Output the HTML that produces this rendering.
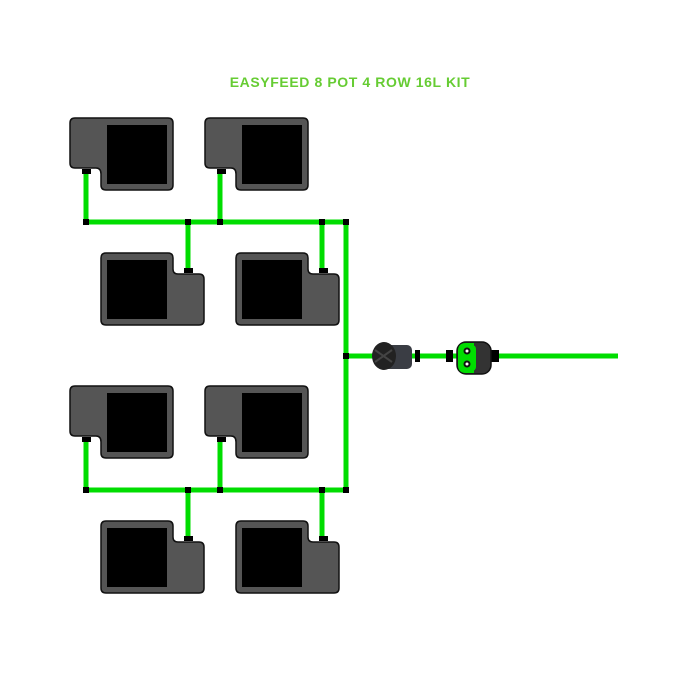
<!DOCTYPE html>
<html><head><style>body{margin:0;background:#fff}svg{display:block}</style></head><body>
<svg width="700" height="700" viewBox="0 0 700 700" xmlns="http://www.w3.org/2000/svg">
<rect width="700" height="700" fill="#fff"/>
<text x="350" y="87" text-anchor="middle" font-family="Liberation Sans, sans-serif" font-size="14" font-weight="bold" letter-spacing="0.6" fill="#66cc33">EASYFEED 8 POT 4 ROW 16L KIT</text>
<defs>
<g id="potA">
<path d="M5,0 H98 Q103,0 103,5 V67 Q103,72 98,72 H36 Q31,72 31,67 V56 Q31,50 26,50 H5 Q0,50 0,45 V5 Q0,0 5,0 Z" fill="#555" stroke="#111" stroke-width="1.5"/>
<rect x="37" y="7" width="60" height="59" fill="#000"/>
<rect x="12" y="51" width="9" height="5" fill="#000"/>
</g>
<g id="potB">
<path d="M5,0 H67 Q72,0 72,5 V16 Q72,21 77,21 H98 Q103,21 103,26 V67 Q103,72 98,72 H5 Q0,72 0,67 V5 Q0,0 5,0 Z" fill="#555" stroke="#111" stroke-width="1.5"/>
<rect x="6" y="7" width="60" height="59" fill="#000"/>
<rect x="83" y="15" width="9" height="5" fill="#000"/>
</g>
<g id="grp">
<g stroke="#00dd00" stroke-width="5" fill="none">
<path d="M86,174 V222 H346"/>
<path d="M220,174 V222"/>
<path d="M188,222 V272"/>
<path d="M322,222 V272"/>
</g>
<use href="#potA" x="70" y="118"/>
<use href="#potA" x="205" y="118"/>
<use href="#potB" x="101" y="253"/>
<use href="#potB" x="236" y="253"/>
<g fill="#000">
<rect x="83" y="219" width="6" height="6"/><rect x="185" y="219" width="6" height="6"/>
<rect x="217" y="219" width="6" height="6"/><rect x="319" y="219" width="6" height="6"/>
<rect x="343" y="219" width="6" height="6"/>
</g>
</g>
</defs>
<path d="M346,222 V490" stroke="#00dd00" stroke-width="5"/>
<path d="M346,356 H618" stroke="#00dd00" stroke-width="5"/>
<use href="#grp"/>
<use href="#grp" y="268"/>
<rect x="343" y="353" width="6" height="6" fill="#000"/>
<!-- filter -->
<rect x="382" y="345" width="30" height="24" rx="5" fill="#3a3d44"/>
<ellipse cx="384" cy="356" rx="12" ry="14" fill="#222"/>
<path d="M375,350 L392,362 M375,362 L392,350" stroke="#444" stroke-width="2"/>
<rect x="415" y="350" width="5" height="12" fill="#000"/>
<!-- timer -->
<rect x="446" y="350" width="7" height="12" fill="#000"/>
<rect x="491" y="350" width="8" height="12" fill="#000"/>
<rect x="457" y="342" width="34" height="32" rx="9" fill="#333" stroke="#111" stroke-width="1.5"/>
<path d="M466,343 H474 V373 H466 Q458,373 458,365 V351 Q458,343 466,343 Z" fill="#00dd00"/>
<rect x="460" y="345" width="16" height="26" rx="4" fill="#00dd00"/>
<circle cx="467" cy="351" r="3.5" fill="#111"/><circle cx="467" cy="351" r="1.5" fill="#fff"/>
<circle cx="467" cy="364" r="3.5" fill="#111"/><circle cx="467" cy="364" r="1.5" fill="#fff"/>
</svg>
</body></html>
